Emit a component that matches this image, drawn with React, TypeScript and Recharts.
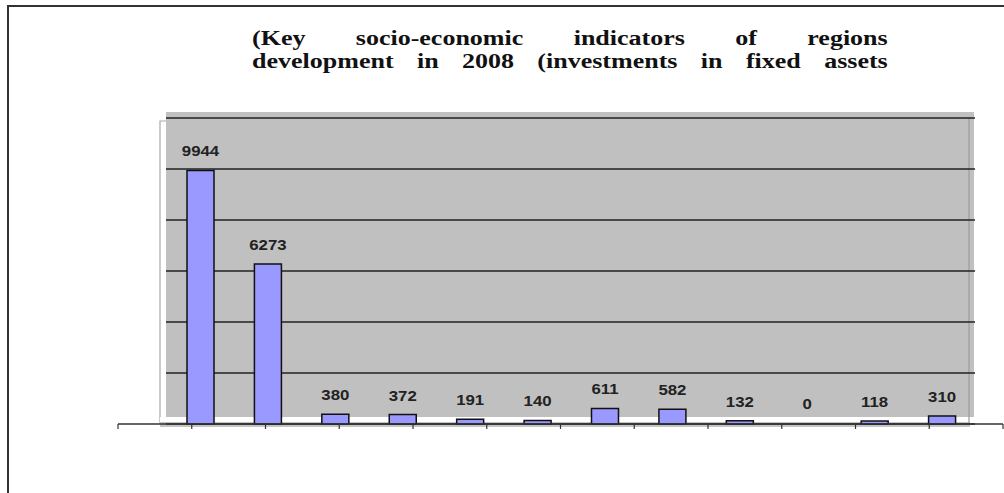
import React from 'react';
import { BarChart, Bar, XAxis, YAxis, CartesianGrid, ReferenceArea, LabelList, Rectangle } from 'recharts';

const regions = [
  'Region 1', 'Region 2', 'Region 3', 'Region 4', 'Region 5', 'Region 6',
  'Region 7', 'Region 8', 'Region 9', 'Region 10', 'Region 11', 'Region 12',
];
const investments = [9944, 6273, 380, 372, 191, 140, 611, 582, 132, 0, 118, 310];
const valueTicks = [2000, 4000, 6000, 8000, 10000, 12000];
const slotTicks = [0, 1, 2, 3, 4, 5, 6, 7, 8, 9, 10, 11, 12];
const titleLines = [
  '(Key socio-economic indicators of regions',
  'development in 2008 (investments in fixed assets',
];

const data = regions.map((region, i) => ({ region, value: investments[i] }));

// excel-ish 3d wall behind the bars
const PlotWall = (props: any) => {
  const { x, y, width, height } = props;
  const bottom = y + height;
  return (
    <g>
      <rect x={x - 7} y={y + 3} width={6} height={height - 3} fill="#fff" />
      <polyline points={`${x - 7},${bottom} ${x - 7},${y + 3} ${x - 1},${y + 3}`} fill="none" stroke="#a8a8a8" strokeWidth={1.2} />
      <rect x={x - 1} y={y - 6} width={width - 1} height={height - 1} fill="#c0c0c0" />
      <rect x={x - 7} y={bottom - 7} width={width - 1} height={5} fill="#fff" />
      <rect x={x - 7} y={bottom - 2} width={width + 1} height={5} fill="#c4c4c4" />
      <line x1={x + width - 7} x2={x + width - 7} y1={y} y2={bottom} stroke="#9a9a9a" strokeWidth={1.2} />
    </g>
  );
};

// zero values keep their label but draw no bar
const RegionBar = (props: any) => {
  if (!props.value) return <g />;
  return <Rectangle {...props} />;
};

const ValueLabel = (props: any) => {
  const { x, y, width, value } = props;
  const cx = x + width / 2;
  return (
    <text
      x={cx}
      y={y - 14}
      textAnchor="middle"
      fontFamily="'Liberation Sans', Arial, sans-serif"
      fontWeight="bold"
      fontSize={14}
      fill="#222"
      transform={`translate(${cx} 0) scale(1.2 1) translate(${-cx} 0)`}
    >
      {value}
    </text>
  );
};

export default function App() {
  return (
    <div style={{ position: 'absolute', left: 0, top: 0, width: 1004, height: 493, background: '#fff', overflow: 'hidden' }}>
      <div style={{ position: 'absolute', left: 7, top: 5, right: 0, bottom: 0, borderTop: '2px solid #333', borderLeft: '2px solid #333' }} />
      <div
        style={{
          position: 'absolute', left: 252, top: 27, width: 489,
          transform: 'scaleX(1.3)', transformOrigin: 'left top',
          fontFamily: "'Liberation Serif', 'Times New Roman', serif", fontWeight: 'bold',
          fontSize: 20, lineHeight: '23px', color: '#111',
        }}
      >
        {titleLines.map((line) => (
          <div key={line} style={{ textAlign: 'justify', textAlignLast: 'justify' }}>{line}</div>
        ))}
      </div>
      <div style={{ position: 'absolute', left: 0, top: 0 }}>
        <BarChart width={1004} height={493} data={data} margin={{ top: 118, right: 1, bottom: 63, left: 118 }}>
          <XAxis xAxisId="bars" dataKey="region" type="category" hide height={0} padding={{ left: 49, right: 27 }} />
          <XAxis
            xAxisId="frame"
            type="number"
            dataKey={() => 0}
            domain={[0, 12]}
            ticks={slotTicks}
            allowDataOverflow
            height={6}
            tickSize={5}
            tick={() => <g />}
            axisLine={{ stroke: '#333', strokeWidth: 1.5 }}
            tickLine={{ stroke: '#333', strokeWidth: 1.2 }}
          />
          <YAxis hide domain={[0, 12000]} ticks={valueTicks} />
          <ReferenceArea
            xAxisId="bars"
            x1={regions[0]}
            x2={regions[regions.length - 1]}
            y1={0}
            y2={12000}
            shape={<PlotWall />}
            zIndex={-200}
            ifOverflow="visible"
          />
          <CartesianGrid
            vertical={false}
            horizontal={(p: any) => (
              <line key={p.key} x1={p.x1 + 48} x2={p.x2 - 28} y1={p.y1} y2={p.y2} stroke="#222" strokeWidth={1.5} />
            )}
          />
          <Bar
            xAxisId="bars"
            dataKey="value"
            barSize={27}
            minPointSize={1}
            fill="#9999ff"
            stroke="#111"
            strokeWidth={1.5}
            shape={<RegionBar />}
            isAnimationActive={false}
          >
            <LabelList dataKey="value" content={<ValueLabel />} />
          </Bar>
        </BarChart>
      </div>
    </div>
  );
}
